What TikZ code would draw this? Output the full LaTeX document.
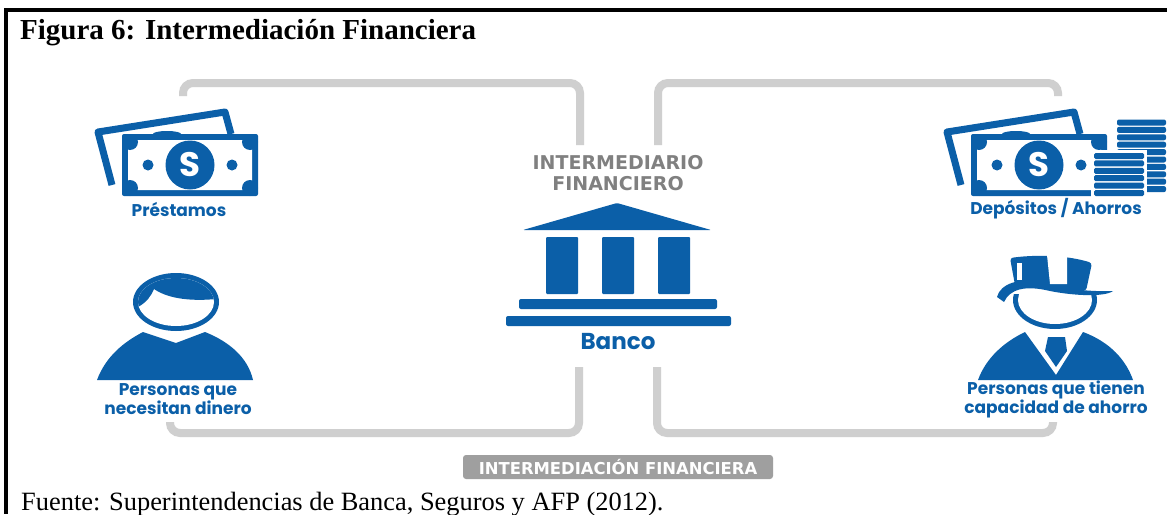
\documentclass[tikz,border=0pt]{standalone}
\usepackage{fontspec}
\setmainfont{Liberation Serif}
\newfontfamily\labelfont{Poppins}
\newfontfamily\headfont{DejaVu Sans}
\usepackage{tikz}
\definecolor{bankblue}{HTML}{0B5FA8}
\definecolor{flowgray}{HTML}{CFCFCF}
\tikzset{
  flowline/.style={draw=flowgray, line width=8pt, rounded corners=10pt},
  bluelabel/.style={text=bankblue, font=\labelfont\bfseries\fontsize{17}{15}\selectfont, align=center, inner sep=0pt},
  graylabel/.style={text=gray, font=\headfont\bfseries\fontsize{19}{21}\selectfont, align=center, inner sep=0pt},
  captionlabel/.style={anchor=base west, inner sep=0pt},
}
% one banknote, drawn with its centre at the origin
\newcommand{\banknote}{
  \draw[bankblue, line width=7pt, line join=round] (-78,20) -- (-92,-33) -- (35,-53) -- (41,-31);
  \fill[bankblue] (-23,-31) ellipse (14 and 3);
  \fill[bankblue, rounded corners=2pt] (-68,-31) rectangle (68,31);
  \fill[white, rounded corners=4pt] (-62,-25) rectangle (62,25);
  \foreach \sx in {-1,1}
    \foreach \sy in {-1,1}
      \fill[bankblue] (\sx*60,\sy*23) circle (8);
  \fill[bankblue] (0,0) circle (24.5);
  \fill[bankblue] (-42,0) circle (5.5);
  \fill[bankblue] (42,0) circle (5.5);
  \node[text=white, font=\labelfont\bfseries\fontsize{34}{34}\selectfont, inner sep=0pt] at (0,0) {S};
}
\begin{document}
\begin{tikzpicture}[x=1pt, y=-1pt]
  \useasboundingbox (0,0) rectangle (1167,514);
  \fill[white] (0,0) rectangle (1167,514);
  % frame
  \fill[black] (4,8) rectangle (1167,12);
  \fill[black] (4,8) rectangle (8,514);

  % connectors
  \coordinate (topleftend) at (183,96);
  \coordinate (topleftbank) at (580,145);
  \coordinate (toprightend) at (1058,96);
  \coordinate (toprightbank) at (658,145);
  \coordinate (botleftend) at (170,422);
  \coordinate (botleftbank) at (579,367);
  \coordinate (botrightend) at (1053,422);
  \coordinate (botrightbank) at (657,367);
  \draw[flowline] (topleftend) |- (topleftbank |- 0,83) -- (topleftbank);
  \draw[flowline] (toprightend) |- (toprightbank |- 0,83) -- (toprightbank);
  \draw[flowline] (botleftend) |- (botleftbank |- 0,433) -- (botleftbank);
  \draw[flowline] (botrightend) |- (botrightbank |- 0,433) -- (botrightbank);

  % left side
  \begin{scope}[shift={(190,165)}]
    \banknote
  \end{scope}
  \node[bluelabel] (prestamos) at (179,209) {Préstamos};
  \fill[bankblue] (176,302) ellipse (43 and 29);
  \fill[white] (176,302) ellipse (38 and 24);
  \begin{scope}
    \clip (176,302) ellipse (38 and 24);
    \fill[bankblue] (130,310) -- (138,307) .. controls (147,302) and (151,296) .. (154,289) .. controls (170,300) and (195,301) .. (216,299) -- (225,260) -- (130,260) -- cycle;
  \end{scope}
  \fill[bankblue] (97,380) .. controls (106,356) and (124,342) .. (143,332) -- (176,343) -- (205,332) .. controls (230,342) and (248,358) .. (253,380) -- cycle;
  \node[bluelabel] (personasleft) at (178,399.5) {Personas que\\necesitan dinero};

  % right side
  \begin{scope}[shift={(1039,165)}]
    \banknote
  \end{scope}
  \foreach \rowi in {0,...,9}
    {
      \fill[bankblue, rounded corners=2pt] (1117,119.5+7.4*\rowi) rectangle (1166,125.5+7.4*\rowi);
    }
  \fill[white] (1091,150) rectangle (1147,199);
  \foreach \rowi in {0,...,5}
    {
      \fill[bankblue, rounded corners=1.5pt] (1094,153+7.4*\rowi) rectangle (1144,159+7.4*\rowi);
    }
  \node[bluelabel] (depositos) at (1056,208.5) {Depósitos / Ahorros};

  % top hat man
  \fill[bankblue] (1055,300) ellipse (42 and 29);
  \fill[white] (1055,300) ellipse (37 and 24);
  \fill[white] (1000,255) rectangle (1120,294);
  \fill[bankblue, rounded corners=3pt] (1010,258) .. controls (1040,254) and (1070,256) .. (1092,263) -- (1086,291) -- (1015,285) -- cycle;
  \fill[white] (1047,255) -- (1067,256) -- (1067,284) -- (1050,284) -- cycle;
  \fill[white] (1017,263) rectangle (1022,280);
  \fill[bankblue] (997,297) .. controls (1000,284) and (1020,276) .. (1045,284) .. controls (1065,288) and (1085,292) .. (1113,291) .. controls (1105,297) and (1075,296) .. (1050,291) .. controls (1025,285) and (1010,289) .. (1004,302) -- cycle;
  \fill[bankblue] (978,380) .. controls (986,358) and (1004,342) .. (1025,332) -- (1056,375) -- (1083,332) .. controls (1110,342) and (1126,360) .. (1133,380) -- cycle;
  \fill[bankblue] (1048,337) -- (1065,337) -- (1067,351) -- (1056,367) -- (1045,351) -- cycle;
  \node[bluelabel] (personasright) at (1056,399.5) {Personas que tienen\\capacidad de ahorro};

  % bank
  \node[graylabel] (intermediario) at (618,173) {INTERMEDIARIO\\FINANCIERO};
  \fill[bankblue, rounded corners=1pt] (523,230) -- (617,203) -- (711,230) -- cycle;
  \foreach \colx in {546,602,658}
    \fill[bankblue, rounded corners=1pt] (\colx,237) rectangle (\colx+32,294);
  \fill[bankblue, rounded corners=2pt] (519,299) rectangle (717,309);
  \fill[bankblue, rounded corners=2pt] (506,316) rectangle (731,326);
  \node[bluelabel, font=\labelfont\bfseries\fontsize{23}{23}\selectfont] (banco) at (618,342) {Banco};

  % band below
  \node[fill=gray!75, rounded corners=3pt, minimum width=310pt, minimum height=24pt, inner sep=0pt, text=white, font=\headfont\bfseries\fontsize{16.4}{16.4}\selectfont] (band) at (618,467) {INTERMEDIACIÓN FINANCIERA};

  % caption
  \node[captionlabel, font=\bfseries\fontsize{29}{29}\selectfont] (titulo) at (20,39) {Figura 6: Intermediación Financiera};
  \node[captionlabel, font=\fontsize{26.4}{26.4}\selectfont] (fuente) at (21,510) {Fuente: Superintendencias de Banca, Seguros y AFP (2012).};
\end{tikzpicture}
\end{document}
